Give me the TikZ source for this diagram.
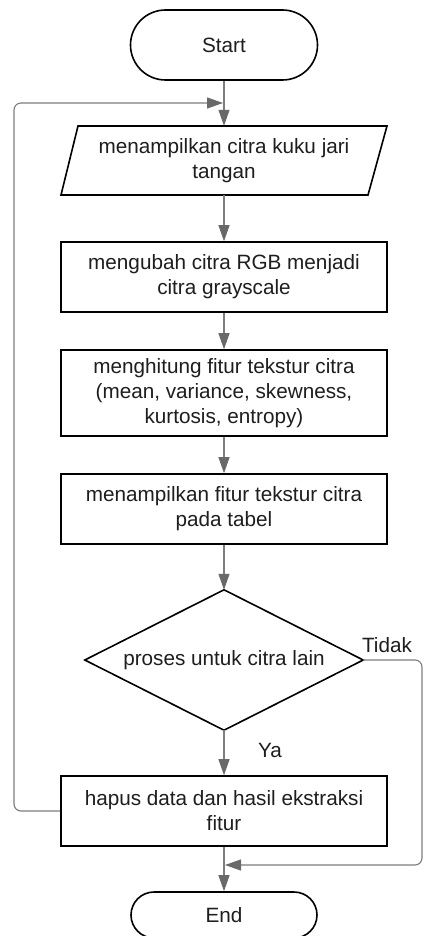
\documentclass[tikz,border=0pt]{standalone}
\usepackage{fontspec}
\setmainfont{Liberation Sans}
\usetikzlibrary{arrows.meta,positioning}
\definecolor{conn}{RGB}{125,125,125}
\definecolor{tip}{RGB}{105,105,105}
\definecolor{txt}{RGB}{30,30,30}
\tikzset{
  every node/.style={font=\fontsize{20.7}{25}\selectfont, text=txt, align=center},
  boxshape/.style={draw=black, line width=1.6pt, minimum width=326pt, minimum height=70pt, inner sep=0pt},
  termshape/.style={draw=black, line width=1.6pt, inner sep=0pt},
  ghost/.style={inner sep=0pt},
  flow/.style={draw=conn, line width=1.1pt, -{Triangle[length=16pt,width=11pt,fill=tip,color=tip]}},
  loopline/.style={flow, rounded corners=7pt},
  lbl/.style={inner sep=0pt}
}
\begin{document}
\begin{tikzpicture}[x=1pt,y=-1pt]
\useasboundingbox (0,0) rectangle (424,936);
\clip (0,0) rectangle (424,936);
\fill[white] (0,0) rectangle (424,936);

% Start terminator
\node[termshape, minimum width=187pt, minimum height=70pt, rounded corners=35pt] (start) at (224,45) {Start};

% input parallelogram (ghost node + outline)
\node[ghost, minimum width=326pt, minimum height=69pt] (in1) at (224,160.5) {menampilkan citra kuku jari\\tangan};
\draw[black, line width=1.6pt] (61,195) -- (78,126) -- (387,126) -- (368,195) -- cycle;

% process boxes
\node[boxshape] (p1) at (224,277) {mengubah citra RGB menjadi\\citra grayscale};
\node[boxshape, minimum height=86pt] (p2) at (224,393) {menghitung fitur tekstur citra\\(mean, variance, skewness,\\kurtosis, entropy)};
\node[boxshape] (p3) at (224,509) {menampilkan fitur tekstur citra\\pada tabel};

% decision diamond (ghost node + outline)
\node[ghost, minimum width=278pt, minimum height=140pt] (dec) at (224,660) {proses untuk citra lain};
\draw[black, line width=1.6pt] (dec.north) -- (dec.east) -- (dec.south) -- (dec.west) -- cycle;

\node[boxshape] (p4) at (224,811) {hapus data dan hasil ekstraksi\\fitur};

% End terminator
\node[termshape, minimum width=186pt, minimum height=46pt, rounded corners=23pt] (end) at (224,915) {End};

% labels
\node[lbl] (tidak) at (387,645) {Tidak};
\node[lbl] (ya) at (270,750) {Ya};

% junction coordinates
\coordinate (j1) at (223,103);
\coordinate (j2) at (225,865);

% connectors
\draw[flow] (start.south) -- (in1.north);
\draw[flow] (in1.south) -- (p1.north);
\draw[flow] (p1.south) -- (p2.north);
\draw[flow] (p2.south) -- (p3.north);
\draw[flow] (p3.south) -- (dec.north);
\draw[flow] (dec.south) -- (p4.north);
\draw[flow] (p4.south) -- (end.north);
\draw[loopline] (p4.west) -- (14,811) -- (14,103) -- (j1);
\draw[loopline] (dec.east) -- (422,660) -- (422,865) -- (j2);
\end{tikzpicture}
\end{document}
